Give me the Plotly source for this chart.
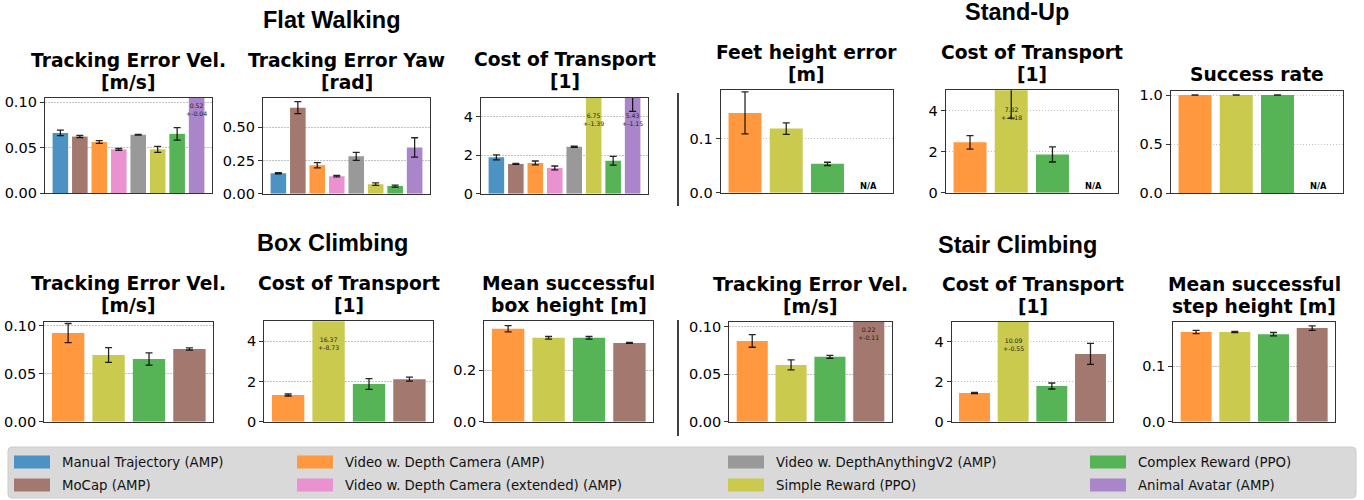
import plotly.graph_objects as go

W, H = 1364, 500

# ---------------- data ----------------
METHODS = [
    "Manual Trajectory (AMP)",
    "MoCap (AMP)",
    "Video w. Depth Camera (AMP)",
    "Video w. Depth Camera (extended) (AMP)",
    "Video w. DepthAnythingV2 (AMP)",
    "Simple Reward (PPO)",
    "Complex Reward (PPO)",
    "Animal Avatar (AMP)",
]
METHOD_COLORS = ["#4c92c3", "#a3786f", "#ff983e", "#e992cf",
                 "#999999", "#c9ca4e", "#56b356", "#a985ca"]

# Flat Walking (all 8 methods, in METHODS order)
flat_methods = METHODS
flat_vel_mean = [0.066, 0.062, 0.056, 0.048, 0.064, 0.048, 0.065, 0.52]
flat_vel_std = [0.003, 0.0012, 0.0015, 0.001, 0.0005, 0.0033, 0.0068, 0.04]
flat_yaw_mean = [0.154, 0.647, 0.214, 0.132, 0.281, 0.072, 0.057, 0.348]
flat_yaw_std = [0.005, 0.045, 0.02, 0.006, 0.03, 0.01, 0.008, 0.073]
flat_cot_mean = [1.89, 1.55, 1.60, 1.34, 2.44, 6.75, 1.71, 5.43]
flat_cot_std = [0.13, 0.03, 0.10, 0.10, 0.03, 1.39, 0.23, 1.15]

# Stand-Up
standup_methods = ["Video w. Depth Camera (AMP)", "Simple Reward (PPO)",
                   "Complex Reward (PPO)", "Animal Avatar (AMP)"]
standup_feet_mean = [0.148, 0.119, 0.0535, None]
standup_feet_std = [0.039, 0.0106, 0.003, None]
standup_cot_mean = [2.46, 7.82, 1.87, None]
standup_cot_std = [0.33, 4.18, 0.37, None]
standup_success_mean = [1.0, 1.0, 1.0, None]
standup_success_std = [0.001, 0.001, 0.001, None]

# Box Climbing
box_methods = ["Video w. Depth Camera (AMP)", "Simple Reward (PPO)",
               "Complex Reward (PPO)", "MoCap (AMP)"]
box_vel_mean = [0.0924, 0.0695, 0.0653, 0.0757]
box_vel_std = [0.0099, 0.0076, 0.0064, 0.0012]
box_cot_mean = [1.33, 16.37, 1.88, 2.12]
box_cot_std = [0.05, 8.73, 0.27, 0.10]
box_height_mean = [0.361, 0.326, 0.326, 0.306]
box_height_std = [0.012, 0.005, 0.005, 0.002]

# Stair Climbing
stair_methods = ["Video w. Depth Camera (AMP)", "Simple Reward (PPO)",
                 "Complex Reward (PPO)", "MoCap (AMP)"]
stair_vel_mean = [0.0851, 0.0598, 0.0683, 0.22]
stair_vel_std = [0.0067, 0.0053, 0.0015, 0.11]
stair_cot_mean = [1.44, 10.09, 1.79, 3.40]
stair_cot_std = [0.03, 0.55, 0.15, 0.53]
stair_step_mean = [0.162, 0.162, 0.158, 0.169]
stair_step_std = [0.003, 0.001, 0.003, 0.004]

GROUP_TITLES = ["Flat Walking", "Stand-Up", "Box Climbing", "Stair Climbing"]

# ---------------- panel layout (pixel boxes: x0, y0, x1, y1) ----------------
panels = [
    dict(t=["Tracking Error Vel.", "[m/s]"], m=flat_methods, mean=flat_vel_mean, std=flat_vel_std,
         ymax=0.1044, dtick=0.05, fmt=".2f", box=(45, 98, 212, 193), lf=0.88),
    dict(t=["Tracking Error Yaw", "[rad]"], m=flat_methods, mean=flat_yaw_mean, std=flat_yaw_std,
         ymax=0.72, dtick=0.25, fmt=".2f", box=(263, 98, 430, 193.7), lf=0.88),
    dict(t=["Cost of Transport", "[1]"], m=flat_methods, mean=flat_cot_mean, std=flat_cot_std,
         ymax=5, dtick=2, fmt="d", box=(481, 97.5, 648, 193.7), lf=0.776),
    dict(t=["Feet height error", "[m]"], m=standup_methods, mean=standup_feet_mean, std=standup_feet_std,
         ymax=0.19, dtick=0.1, fmt=".1f", box=(720.7, 90.3, 893, 192.7), lf=0.88),
    dict(t=["Cost of Transport", "[1]"], m=standup_methods, mean=standup_cot_mean, std=standup_cot_std,
         ymax=5, dtick=2, fmt="d", box=(945.7, 90.3, 1118, 192.7), lf=0.776),
    dict(t=["Success rate"], m=standup_methods, mean=standup_success_mean, std=standup_success_std,
         ymax=1.045, dtick=0.5, fmt=".1f", box=(1170.7, 90.7, 1343, 193.3), lf=0.88),
    dict(t=["Tracking Error Vel.", "[m/s]"], m=box_methods, mean=box_vel_mean, std=box_vel_std,
         ymax=0.1042, dtick=0.05, fmt=".2f", box=(44.3, 321.7, 213.3, 421.7), lf=0.88),
    dict(t=["Cost of Transport", "[1]"], m=box_methods, mean=box_cot_mean, std=box_cot_std,
         ymax=5, dtick=2, fmt="d", box=(264.3, 321.3, 433.3, 421.7), lf=0.776),
    dict(t=["Mean successful", "box height [m]"], m=box_methods, mean=box_height_mean, std=box_height_std,
         ymax=0.39, dtick=0.2, fmt=".1f", box=(484.3, 321.3, 653.3, 421.7), lf=0.88),
    dict(t=["Tracking Error Vel.", "[m/s]"], m=stair_methods, mean=stair_vel_mean, std=stair_vel_std,
         ymax=0.105, dtick=0.05, fmt=".2f", box=(729.3, 322, 891.7, 421.7), lf=0.88),
    dict(t=["Cost of Transport", "[1]"], m=stair_methods, mean=stair_cot_mean, std=stair_cot_std,
         ymax=5, dtick=2, fmt="d", box=(951.7, 322, 1113.3, 421.7), lf=0.776),
    dict(t=["Mean successful", "step height [m]"], m=stair_methods, mean=stair_step_mean, std=stair_step_std,
         ymax=0.18, dtick=0.1, fmt=".1f", box=(1173.3, 322, 1335, 421.7), lf=0.88),
]
group_title_pos = [(332, 20), (1017, 12), (332, 243), (1017, 245)]


def px(x):
    return x / W


def py(y):
    return 1 - y / H


color_of = dict(zip(METHODS, METHOD_COLORS))
TITLE_FONT = dict(family="DejaVu Sans", size=18.7, color="black", weight="bold")
TICK_FONT = dict(family="DejaVu Sans", size=14.5, color="black")
AXIS_LINE = "#333333"

fig = go.Figure()
annotations = []
shapes = []
layout = {}

for i, p in enumerate(panels):
    k = i + 1
    xa = "x" if k == 1 else f"x{k}"
    ya = "y" if k == 1 else f"y{k}"
    n = len(p["m"])
    xs = list(range(n))
    fig.add_trace(go.Bar(
        x=xs, y=p["mean"], width=0.8,
        marker=dict(color=[color_of[m] for m in p["m"]], line=dict(width=0)),
        error_y=dict(type="data", array=p["std"], visible=True,
                     color="rgba(0,0,0,0.85)", thickness=1.3, width=3.5),
        xaxis=xa, yaxis=ya, showlegend=False,
        hovertext=p["m"], hoverinfo="text+y",
    ))
    x0, y0, x1, y1 = p["box"]
    span = (n - 1) + 0.8
    layout["xaxis" if k == 1 else f"xaxis{k}"] = dict(
        domain=[px(x0), px(x1)], anchor=ya, automargin=False,
        range=[-0.4 - 0.05 * span, n - 1 + 0.4 + 0.05 * span],
        showticklabels=False, ticks="", showgrid=False, zeroline=False,
        showline=True, mirror=True, linecolor=AXIS_LINE, linewidth=1.3, fixedrange=True,
    )
    layout["yaxis" if k == 1 else f"yaxis{k}"] = dict(
        domain=[py(y1), py(y0)], anchor=xa, automargin=False,
        range=[0, p["ymax"]], dtick=p["dtick"], tick0=0, tickformat=p["fmt"],
        ticks="outside", ticklen=4, tickwidth=1, tickcolor=AXIS_LINE,
        tickfont=TICK_FONT,
        showgrid=True, gridcolor="#c2c2c2", griddash="1.5px,1.5px", gridwidth=1,
        zeroline=False, showline=True, mirror=True, linecolor=AXIS_LINE, linewidth=1.3,
        fixedrange=True,
    )
    # titles
    cx = (x0 + x1) / 2
    lines = p["t"]
    offsets = [38, 16] if len(lines) == 2 else [16]
    for line, off in zip(lines, offsets):
        annotations.append(dict(
            text=line, x=px(cx), y=py(y0 - off), xref="paper", yref="paper",
            xanchor="center", yanchor="middle", showarrow=False, font=TITLE_FONT,
        ))
    # value labels for bars that exceed the axis, N/A for missing ones
    for j, (mval, sval) in enumerate(zip(p["mean"], p["std"])):
        if mval is None:
            annotations.append(dict(
                text="N/A", x=j, y=0, xref=xa, yref=ya, xanchor="center", yanchor="bottom",
                showarrow=False, font=dict(family="DejaVu Sans", size=8.3, color="black", weight="bold"),
            ))
        elif mval > p["ymax"]:
            annotations.append(dict(
                text=f"{mval:.2f}<br>+-{sval:.2f}", x=j, y=p["ymax"] * p["lf"], xref=xa, yref=ya,
                xanchor="center", yanchor="middle", showarrow=False,
                font=dict(family="DejaVu Sans", size=6.2, color="#222222"),
            ))

for title, (gx, gy) in zip(GROUP_TITLES, group_title_pos):
    annotations.append(dict(
        text=title, x=px(gx), y=py(gy), xref="paper", yref="paper",
        xanchor="center", yanchor="middle", showarrow=False,
        font=dict(family="Liberation Sans", size=23.5, color="black", weight="bold"),
    ))

# separators between left and right groups
for (ya0, ya1) in [(93, 206), (320, 436)]:
    shapes.append(dict(type="line", xref="paper", yref="paper", x0=px(678), x1=px(678),
                       y0=py(ya0), y1=py(ya1), line=dict(color="black", width=1.5)))

# legend box (rounded corners)
L, R, T, B = px(8), px(1356), py(447), py(498)
rx, ry = 4 / W, 4 / H
legend_path = (f"M{L + rx},{T} L{R - rx},{T} Q{R},{T} {R},{T - ry} L{R},{B + ry} "
               f"Q{R},{B} {R - rx},{B} L{L + rx},{B} Q{L},{B} {L},{B + ry} "
               f"L{L},{T - ry} Q{L},{T} {L + rx},{T} Z")
shapes.append(dict(type="path", xref="paper", yref="paper", path=legend_path,
                   fillcolor="#d9d9d9", line=dict(color="#cccccc", width=1), layer="below"))
leg_cols = [14, 297, 728, 1090]
leg_rows = [462, 485]
for k, (name, col) in enumerate(zip(METHODS, METHOD_COLORS)):
    cxp = leg_cols[k // 2]
    cyp = leg_rows[k % 2]
    shapes.append(dict(type="rect", xref="paper", yref="paper", x0=px(cxp), x1=px(cxp + 36),
                       y0=py(cyp + 6.5), y1=py(cyp - 6.5), fillcolor=col, line=dict(width=0)))
    annotations.append(dict(
        text=name, x=px(cxp + 46), y=py(cyp), xref="paper", yref="paper",
        xanchor="left", yanchor="middle", showarrow=False,
        font=dict(family="DejaVu Sans", size=13.3, color="#111111"),
    ))

fig.update_layout(
    width=W, height=H, autosize=False,
    margin=dict(l=0, r=0, t=0, b=0, pad=0, autoexpand=False),
    paper_bgcolor="white", plot_bgcolor="white",
    annotations=annotations, shapes=shapes, bargap=0.2, showlegend=False,
    **layout,
)
fig.write_html(
    "out.html",
    config={"responsive": False, "displayModeBar": False},
    post_script="document.body.style.margin='0';document.body.style.overflow='hidden';",
)
